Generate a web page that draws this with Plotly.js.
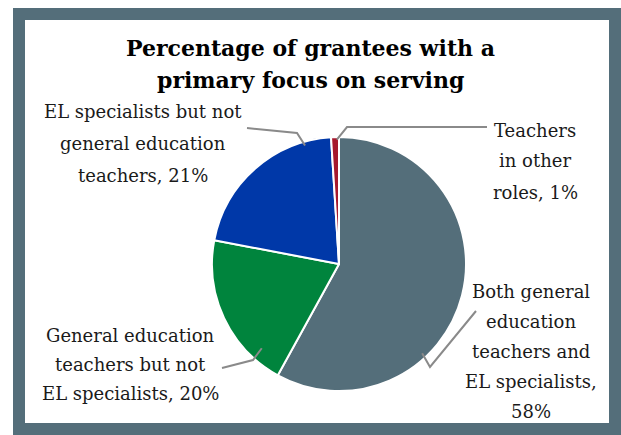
<!DOCTYPE html>
<html>
<head>
<meta charset="utf-8">
<script src="https://cdn.plot.ly/plotly-3.0.1.min.js"></script>
<style>
html,body{margin:0;padding:0;background:#fff;}
#chart{width:621px;height:435px;}
</style>
</head>
<body>
<div id="chart"></div>
<script>
// ---- data ----
const categories = [
  "Both general education teachers and EL specialists",
  "General education teachers but not EL specialists",
  "EL specialists but not general education teachers",
  "Teachers in other roles"
];
const values = [58, 20, 21, 1];
const labelLines = [
  ["Both general", "education", "teachers and", "EL specialists,", "58%"],
  ["General education", "teachers but not", "EL specialists, 20%"],
  ["EL specialists but not", "general education", "teachers, 21%"],
  ["Teachers", "in other", "roles, 1%"]
];
const colors = ["#546E7A", "#00843D", "#0038A8", "#A6192E"];
const titleLines = ["Percentage of grantees with a", "primary focus on serving"];

// ---- layout helpers (pixel -> paper) ----
const W = 621, H = 435;
const px = x => x / W;
const py = y => 1 - y / H;
const cx = 339, cy = 264, R = 127;

const labelPos = [
  {x: 531, y: 291, lh: 30},
  {x: 130, y: 335, lh: 29},
  {x: 143, y: 111, lh: 32},
  {x: 535, y: 130, lh: 31}
];
const leaders = [
  {ang: 137, rf: 0.96, elbow: [430, 367], end: [476, 311]},
  {ang: 222.5, rf: 0.90, elbow: [253, 360], end: [222, 368]},
  {ang: 344, rf: 0.97, elbow: [297, 133], end: [247, 128]},
  {ang: 359, rf: 0.98, elbow: [347, 127], end: [487, 127]}
];

const font = "DejaVu Serif";
const annotations = [];
titleLines.forEach((t, i) => {
  annotations.push({
    text: "<b>" + t + "</b>", x: px(310), y: py(48 + i * 32),
    xref: "paper", yref: "paper", showarrow: false,
    xanchor: "center", yanchor: "middle",
    font: {family: font, size: 22, color: "#000"}
  });
});
labelLines.forEach((lines, k) => {
  const p = labelPos[k];
  lines.forEach((t, i) => {
    annotations.push({
      text: t, x: px(p.x), y: py(p.y + i * p.lh),
      xref: "paper", yref: "paper", showarrow: false,
      xanchor: "center", yanchor: "middle",
      font: {family: font, size: 18, color: "#1a1a1a"}
    });
  });
});

const shapes = [];
shapes.push({
  type: "rect", xref: "paper", yref: "paper",
  x0: px(19), x1: px(615), y0: py(429), y1: py(14),
  line: {color: "#546E7A", width: 12}, fillcolor: "rgba(0,0,0,0)"
});
leaders.forEach(l => {
  const a = l.ang * Math.PI / 180;
  const sx = cx + R * l.rf * Math.sin(a);
  const sy = cy - R * l.rf * Math.cos(a);
  shapes.push({
    type: "path", xref: "paper", yref: "paper",
    path: `M ${px(sx)} ${py(sy)} L ${px(l.elbow[0])} ${py(l.elbow[1])} L ${px(l.end[0])} ${py(l.end[1])}`,
    line: {color: "#8a8a8a", width: 2}
  });
});

const trace = {
  type: "pie", labels: categories, values: values,
  sort: false, direction: "clockwise", rotation: 0,
  textinfo: "none",
  marker: {colors: colors, line: {color: "#ffffff", width: 2}},
  domain: {x: [px(cx - R), px(cx + R)], y: [py(cy + R), py(cy - R)]},
  showlegend: false
};

const layout = {
  width: W, height: H,
  margin: {l: 0, r: 0, t: 0, b: 0},
  paper_bgcolor: "#ffffff",
  showlegend: false,
  annotations: annotations,
  shapes: shapes
};

Plotly.newPlot("chart", [trace], layout, {displayModeBar: false, staticPlot: true});
</script>
</body>
</html>
